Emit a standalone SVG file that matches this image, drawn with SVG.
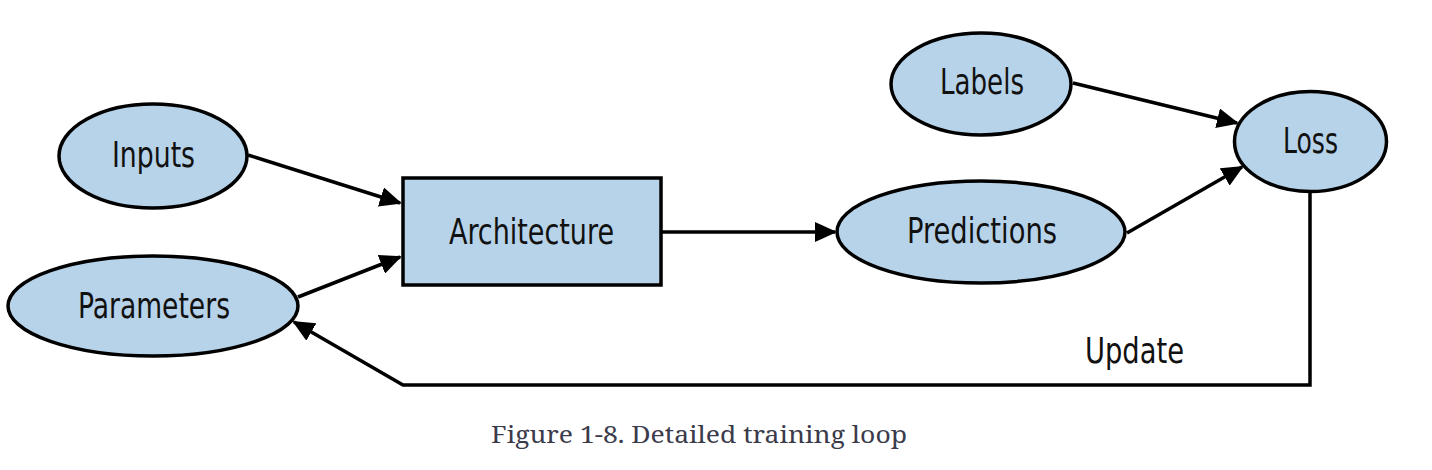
<svg xmlns="http://www.w3.org/2000/svg" width="1432" height="470" viewBox="0 0 1432 470">
<style>
.node{fill:#b7d3e9;stroke:#000;stroke-width:3.5}
.lbl{font-family:"Liberation Sans Narrow","DejaVu Sans Condensed","Liberation Sans",sans-serif;font-size:36px;fill:#111;text-anchor:middle}
.edge{fill:none;stroke:#000;stroke-width:3.5;stroke-linejoin:miter}
.cap{font-family:"Noto Serif","DejaVu Serif","Liberation Serif",serif;font-size:24px;fill:#3b3b4b;text-anchor:middle}
</style>
<defs>
<marker id="ah" viewBox="0 0 22 20" markerWidth="22" markerHeight="20" refX="20" refY="10" orient="auto" markerUnits="userSpaceOnUse">
<path d="M0,0 L22,10 L0,20 z" fill="#000"/>
</marker>
</defs>
<rect width="1432" height="470" fill="#fff"/>
<g id="connectors">
<path class="edge" d="M248,155 L400,203" marker-end="url(#ah)"/>
<path class="edge" d="M298,297 L400,257" marker-end="url(#ah)"/>
<path class="edge" d="M662,232 L835,232" marker-end="url(#ah)"/>
<path class="edge" d="M1073,83 L1237,123" marker-end="url(#ah)"/>
<path class="edge" d="M1127,233 L1242,167" marker-end="url(#ah)"/>
<path class="edge" d="M1310,193 L1310,385 L403,385 L294,322" marker-end="url(#ah)"/>
</g>
<g id="inputs">
<ellipse class="node" cx="153" cy="156" rx="94" ry="52"/>
<text class="lbl" x="153.5" y="167" textLength="83" lengthAdjust="spacingAndGlyphs">Inputs</text>
</g>
<g id="parameters">
<ellipse class="node" cx="153" cy="306" rx="145" ry="50"/>
<text class="lbl" x="154" y="318" textLength="152" lengthAdjust="spacingAndGlyphs">Parameters</text>
</g>
<g id="architecture">
<rect class="node" x="403" y="178" width="258" height="107"/>
<text class="lbl" x="531.5" y="244" textLength="165" lengthAdjust="spacingAndGlyphs">Architecture</text>
</g>
<g id="labels">
<ellipse class="node" cx="981" cy="84" rx="90" ry="51"/>
<text class="lbl" x="982" y="94" textLength="84" lengthAdjust="spacingAndGlyphs">Labels</text>
</g>
<g id="predictions">
<ellipse class="node" cx="981" cy="232" rx="144" ry="51"/>
<text class="lbl" x="982" y="243" textLength="150" lengthAdjust="spacingAndGlyphs">Predictions</text>
</g>
<g id="loss">
<ellipse class="node" cx="1310.5" cy="141.5" rx="76" ry="50"/>
<text class="lbl" x="1310.5" y="153" textLength="55" lengthAdjust="spacingAndGlyphs">Loss</text>
</g>
<g id="update-label">
<text class="lbl" x="1134.5" y="363" textLength="99" lengthAdjust="spacingAndGlyphs">Update</text>
</g>
<text class="cap" x="699" y="443" textLength="416" lengthAdjust="spacingAndGlyphs">Figure 1-8. Detailed training loop</text>
</svg>
